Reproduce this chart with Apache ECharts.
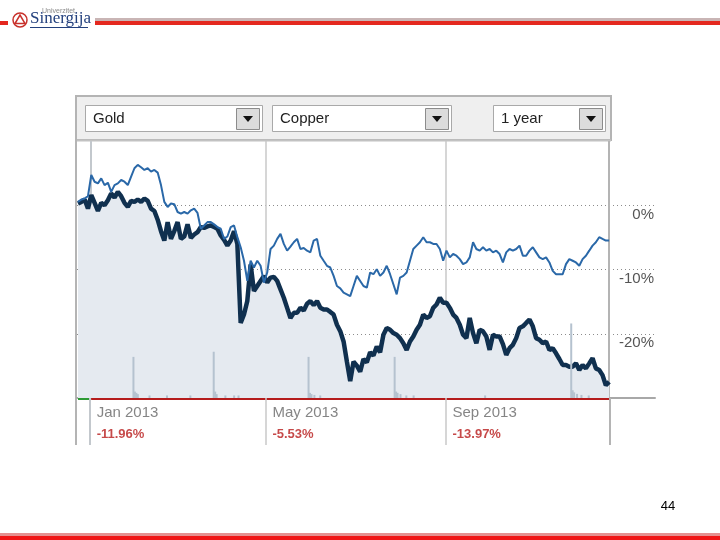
<!DOCTYPE html>
<html><head><meta charset="utf-8">
<script src="https://cdn.jsdelivr.net/npm/echarts@6/dist/echarts.min.js"></script>
<style>html,body{margin:0;padding:0;background:#fff}#c{width:720px;height:540px}</style>
</head><body><div id="c"></div>
<script>
// ---- data ----
const startDate = '2012-12-23';
const endDate = '2013-12-22';
const gold = [
 0.26,0.52,0.89,-0.52,1.57,0.37,-0.89,0.37,0,0.79,
 1.83,1.2,2.09,1.41,0.37,-0.26,0.68,0.52,0.89,0.52,
 1.05,0.68,-0.52,-0.89,-2.25,-4.03,-5.5,-2.62,-5.24,-4.03,
 -2.62,-5.24,-4.87,-2.98,-5.08,-4.55,-4.19,-3.4,-3.51,-3.3,
 -3.14,-3.4,-3.66,-4.71,-5.39,-6.28,-5.5,-4.03,-6.02,-18.3,
 -17.0,-14.9,-9.2,-13.35,-12.57,-11.78,-11.0,-12.04,-11.26,-11.15,
 -11.78,-13.09,-14.4,-15.97,-17.54,-16.75,-16.75,-15.97,-16.39,-15.34,
 -14.92,-15.55,-14.92,-15.97,-16.23,-16.23,-16.6,-17.02,-18.59,-19.6,
 -21.2,-24.35,-27.38,-24.35,-24.97,-25.92,-23.93,-24.45,-22.88,-23.4,
 -21.99,-22.88,-20.16,-19.11,-19.37,-19.9,-20.16,-20.68,-21.47,-22.51,
 -21.2,-20.42,-19.37,-18.59,-17.02,-17.54,-17.28,-15.97,-15.45,-14.4,
 -15.18,-15.18,-15.97,-17.02,-17.54,-18.59,-20.16,-20.68,-17.54,-19.9,
 -21.47,-19.37,-19.63,-20.42,-22.51,-20.16,-20.42,-20.42,-21.62,-23.3,
 -22.25,-21.73,-20.68,-19.11,-18.85,-18.32,-17.8,-18.85,-20.68,-20.94,
 -21.47,-21.2,-22.51,-22.25,-23.04,-23.93,-24.87,-24.87,-25.13,-25.13,
 -24.61,-25.65,-24.87,-25.39,-24.61,-23.82,-25.39,-25.65,-26.44,-28.01,
 -27.49
];
const copper = [
 0.52,0.89,1.05,1.41,4.71,3.66,3.4,4.19,3.14,3.51,
 2.09,3.14,3.4,3.93,3.66,3.14,4.45,5.76,6.28,5.92,
 5.5,5.76,5.24,5.5,5.08,3.14,0.52,-0.26,0.26,0.16,
 -1.05,-1.31,-1.05,-1.31,-0.79,-0.52,-1.2,-3.66,-3.14,-2.62,
 -2.62,-2.98,-3.4,-3.66,-5.24,-4.87,-3.4,-3.14,-4.97,-6.54,
 -8.64,-11.78,-8.64,-9.69,-8.64,-9.42,-12.04,-10.47,-6.81,-6.28,
 -5.24,-4.45,-6.02,-7.07,-6.44,-5.76,-5.24,-6.81,-6.65,-7.07,
 -7.33,-5.5,-5.24,-7.85,-8.64,-9.42,-9.69,-10.99,-12.57,-12.93,
 -13.61,-13.87,-14.14,-12.57,-10.99,-11.78,-12.57,-12.83,-10.47,-10.73,
 -9.95,-10.99,-10.47,-9.42,-10.73,-12.3,-13.87,-11.26,-10.99,-10.47,
 -8.64,-6.81,-6.28,-5.76,-4.97,-5.76,-5.76,-6.02,-6.02,-6.81,
 -8.64,-7.07,-8.12,-7.59,-7.85,-8.38,-9.16,-8.9,-8.12,-5.76,
 -6.81,-7.07,-6.54,-7.07,-6.81,-7.33,-7.07,-7.59,-8.9,-7.33,
 -6.81,-7.07,-6.81,-6.28,-7.85,-7.85,-7.07,-6.54,-7.33,-8.12,
 -8.38,-8.12,-8.9,-10.21,-10.73,-10.73,-10.73,-9.16,-8.38,-8.64,
 -8.9,-9.42,-8.38,-7.85,-7.07,-6.28,-5.76,-4.97,-5.24,-5.5,
 -5.5
];
const volumeDates = ['2013-01-30','2013-01-31','2013-02-01','2013-02-02','2013-02-10','2013-02-22','2013-03-10',
 '2013-03-26','2013-03-27','2013-03-28','2013-04-03','2013-04-09','2013-04-12',
 '2013-05-30','2013-05-31','2013-06-01','2013-06-03','2013-06-07',
 '2013-07-28','2013-07-29','2013-07-30','2013-08-01','2013-08-05','2013-08-10',
 '2013-09-28',
 '2013-11-26','2013-11-27','2013-11-28','2013-11-30','2013-12-03','2013-12-08'];
const volumeValues = [16,2.5,2,1.5,1,1,1,
 18,2.5,1.5,1,1,1,
 16,2,1.5,1.2,1,
 16,2.5,2,1.5,1,1,
 1,
 29,3,2.2,1.6,1.2,1];
const periodDates = ['2013-01-01','2013-05-01','2013-09-01'];
const periodLabels = ['Jan 2013','May 2013','Sep 2013'];
const periodChanges = ['-11.96%','-5.53%','-13.97%'];
const seriesNames = ['Gold','Copper'];
const rangeLabel = '1 year';
const pageNumber = '44';

// ---- build ----
const t0 = Date.parse(startDate), t1 = Date.parse(endDate);
const n = gold.length;
const step = (t1 - t0) / (n - 1);
const goldData = gold.map((v, i) => [t0 + i * step, v]);
const copperData = copper.map((v, i) => [t0 + i * step, v]);
const volData = volumeDates.map((d, i) => [Date.parse(d), volumeValues[i]]);
const gridLeft = 77, gridRight = 65;
const dataPx = 533, gridPx = 720 - gridLeft - gridRight;
const axisMax = t0 + (t1 - t0) * gridPx / dataPx;
const FONT = 'Arial, "Liberation Sans", sans-serif';
const vLines = [
  {xAxis: Date.parse(periodDates[0]), lineStyle: {color: '#c3c8cd', width: 2, type: 'solid'}},
  {xAxis: Date.parse(periodDates[1]), lineStyle: {color: '#c8c8c8', width: 1.5, type: 'solid'}},
  {xAxis: Date.parse(periodDates[2]), lineStyle: {color: '#c8c8c8', width: 1.5, type: 'solid'}},
  {xAxis: t1, lineStyle: {color: '#b4b4b4', width: 2, type: 'solid'}}
];

function dropdown(x, w, label) {
  return [
    {type: 'rect', shape: {x: x + 0.5, y: 105.5, width: w, height: 26}, style: {fill: '#fff', stroke: '#a9a9a9', lineWidth: 1}},
    {type: 'rect', shape: {x: x + w - 25.5, y: 108.5, width: 23, height: 21}, style: {fill: '#dcdcdc', stroke: '#8c8c8c', lineWidth: 1}},
    {type: 'polygon', shape: {points: [[x + w - 19, 116], [x + w - 9, 116], [x + w - 14, 122]]}, style: {fill: '#111'}},
    {type: 'text', x: x + 8, y: 118.5, style: {text: label, font: '15px ' + FONT, fill: '#222', verticalAlign: 'middle'}}
  ];
}

const graphic = [
  {type: 'rect', shape: {x: 0, y: 21, width: 8, height: 4}, style: {fill: '#e4281f'}},
  {type: 'rect', shape: {x: 95, y: 18, width: 625, height: 3}, style: {fill: '#c9b5b5'}},
  {type: 'rect', shape: {x: 95, y: 21, width: 625, height: 4}, style: {fill: '#e4281f'}},
  {type: 'circle', shape: {cx: 20, cy: 20, r: 7}, style: {fill: '#fff', stroke: '#c8312b', lineWidth: 1.5}},
  {type: 'polygon', shape: {points: [[15, 23.5], [20, 15], [25, 23.5]]}, style: {fill: 'none', stroke: '#c8312b', lineWidth: 1.5}},
  {type: 'text', x: 42, y: 8, style: {text: 'Univerzitet', font: '7px ' + FONT, fill: '#8a8a8a'}},
  {type: 'text', x: 30, y: 19, style: {text: 'Sinergija', font: '17px "Liberation Serif", "DejaVu Serif", serif', fill: '#23407d', verticalAlign: 'middle'}},
  {type: 'rect', shape: {x: 30, y: 27, width: 58, height: 1}, style: {fill: '#23407d'}},
  {type: 'rect', shape: {x: 0, y: 533, width: 720, height: 3}, style: {fill: '#e59090'}},
  {type: 'rect', shape: {x: 0, y: 536, width: 720, height: 4}, style: {fill: '#f01515'}},
  {type: 'text', x: 668, y: 506, style: {text: pageNumber, font: '13px ' + FONT, fill: '#000', align: 'center', verticalAlign: 'middle'}},
  {type: 'rect', shape: {x: 76, y: 96, width: 535, height: 44}, style: {fill: '#efefef', stroke: '#b4b4b4', lineWidth: 2}, z: 0},
  {type: 'line', shape: {x1: 76, y1: 96, x2: 76, y2: 445}, style: {stroke: '#b4b4b4', lineWidth: 2}},
  {type: 'line', shape: {x1: 77, y1: 140.5, x2: 611, y2: 140.5}, style: {stroke: '#c2c2c2', lineWidth: 2}}
].concat(dropdown(85, 177, seriesNames[0]), dropdown(272, 179, seriesNames[1]), dropdown(493, 112, rangeLabel));

const option = {
  animation: false,
  backgroundColor: '#fff',
  textStyle: {fontFamily: FONT},
  graphic: graphic,
  grid: [
    {left: gridLeft, right: gridRight, top: 141, height: 257},
    {left: gridLeft, right: gridRight, top: 398, height: 47}
  ],
  xAxis: [
    {type: 'time', gridIndex: 0, min: t0, max: axisMax,
     axisLine: {show: true, onZero: false, lineStyle: {color: '#a8a8a8', width: 2}},
     axisTick: {show: false}, axisLabel: {show: false}, splitLine: {show: false}},
    {type: 'time', gridIndex: 1, min: t0, max: axisMax, show: false}
  ],
  yAxis: [
    {type: 'value', gridIndex: 0, min: -30, max: 10, interval: 10, position: 'right',
     axisLine: {show: false}, axisTick: {show: false},
     axisLabel: {inside: true, margin: 1, formatter: v => v + '%', showMinLabel: false, showMaxLabel: false,
       color: '#555', fontSize: 15, verticalAlign: 'top', padding: [2, 0, 0, 0]},
     splitLine: {show: true, showMinLine: false, showMaxLine: false, lineStyle: {color: '#8c8c8c', type: [1, 3], width: 1}}},
    {type: 'value', gridIndex: 0, min: 0, max: 100, show: false},
    {type: 'value', gridIndex: 1, min: 0, max: 1, show: false}
  ],
  series: [
    {name: seriesNames[0], type: 'line', xAxisIndex: 0, yAxisIndex: 0, data: goldData,
     showSymbol: false, symbol: 'none', z: 2,
     lineStyle: {color: '#10304f', width: 4.5},
     areaStyle: {origin: 'start', color: '#e5eaf0', opacity: 1},
     markLine: {silent: true, symbol: 'none', label: {show: false}, z: 1,
       data: vLines.concat([
         [{coord: [t0, -30], lineStyle: {color: '#2d9a34', width: 3, type: 'solid'}}, {coord: [Date.parse(periodDates[0]), -30]}],
         [{coord: [Date.parse(periodDates[0]), -30], lineStyle: {color: '#b51c1c', width: 3, type: 'solid'}}, {coord: [t1, -30]}]
       ])}},
    {name: 'Volume', type: 'bar', xAxisIndex: 0, yAxisIndex: 1, data: volData, barWidth: 2, z: 3,
     itemStyle: {color: '#b5c2cf'}},
    {name: seriesNames[1], type: 'line', xAxisIndex: 0, yAxisIndex: 0, data: copperData,
     showSymbol: false, symbol: 'none', z: 4,
     lineStyle: {color: '#2a68a8', width: 2}},
    {name: 'periods', type: 'scatter', xAxisIndex: 1, yAxisIndex: 2,
     data: periodDates.map(d => [Date.parse(d), 1]),
     symbolSize: 1, itemStyle: {color: 'transparent'},
     label: {show: true, position: [7, 4],
       formatter: p => '{a|' + periodLabels[p.dataIndex] + '}\n{b|' + periodChanges[p.dataIndex] + '}',
       rich: {a: {fontSize: 15, color: '#666', lineHeight: 22, fontFamily: FONT},
              b: {fontSize: 13, fontWeight: 'bold', color: '#b81c1c', lineHeight: 22, fontFamily: FONT}}},
     markLine: {silent: true, symbol: 'none', label: {show: false}, data: vLines}}
  ]
};
echarts.init(document.getElementById('c'), null, {renderer: 'canvas'}).setOption(option);
</script></body></html>
